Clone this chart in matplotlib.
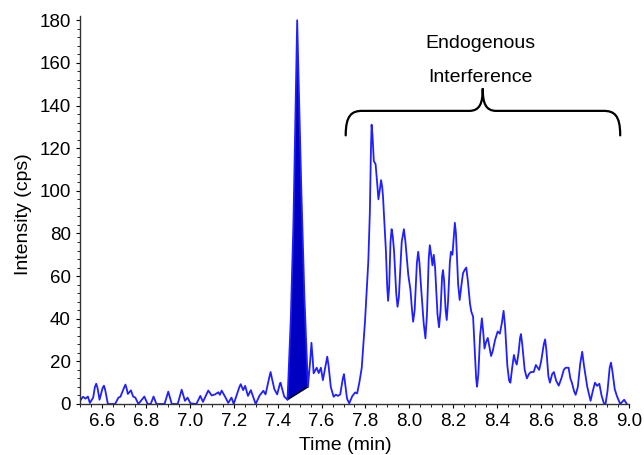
import matplotlib
matplotlib.use("Agg")
import matplotlib.pyplot as plt
from matplotlib.path import Path
from matplotlib.patches import PathPatch

plt.rcParams['font.family'] = ['Liberation Sans', 'DejaVu Sans']

# chromatogram trace: retention time (min) and intensity (cps)
time_min = [
    # baseline noise before the analyte
    6.500, 6.514, 6.525, 6.536, 6.545, 6.560, 6.568, 6.574, 6.580, 6.589,
    6.603, 6.609, 6.615, 6.627, 6.660, 6.675, 6.684, 6.700, 6.707, 6.713,
    6.718, 6.732, 6.742, 6.752, 6.766, 6.793, 6.808, 6.822, 6.835, 6.848,
    6.885, 6.902, 6.918, 6.945, 6.963, 6.978, 6.990, 7.003, 7.030, 7.048,
    7.060, 7.084, 7.100, 7.115, 7.130, 7.137, 7.145, 7.163, 7.175, 7.190,
    7.200, 7.226, 7.232, 7.243, 7.252, 7.265, 7.278, 7.300, 7.318, 7.335,
    7.345, 7.362, 7.368, 7.374, 7.385, 7.398, 7.409, 7.413, 7.430, 7.445,
    # analyte peak
    7.460, 7.472, 7.482, 7.489, 7.496, 7.508, 7.522, 7.538,
    # tail and endogenous interference
    7.548, 7.554, 7.559, 7.564, 7.578, 7.587, 7.597, 7.606, 7.620, 7.626,
    7.632, 7.642, 7.655, 7.665, 7.675, 7.685, 7.697, 7.702, 7.708, 7.716,
    7.726, 7.740, 7.753, 7.762, 7.772, 7.783, 7.798, 7.813, 7.820, 7.825,
    7.828, 7.832, 7.838, 7.846, 7.853, 7.859, 7.866, 7.871, 7.876, 7.880,
    7.893, 7.899, 7.903, 7.908, 7.914, 7.919, 7.924, 7.930, 7.940, 7.946,
    7.952, 7.965, 7.975, 7.982, 7.995, 8.005, 8.012, 8.017, 8.024, 8.034,
    8.040, 8.046, 8.053, 8.065, 8.073, 8.080, 8.088, 8.093, 8.099, 8.105,
    8.111, 8.117, 8.128, 8.135, 8.142, 8.149, 8.153, 8.158, 8.165, 8.170,
    8.176, 8.184, 8.189, 8.196, 8.203, 8.207, 8.212, 8.222, 8.229, 8.236,
    8.244, 8.252, 8.259, 8.266, 8.276, 8.282, 8.290, 8.298, 8.304, 8.308,
    8.314, 8.322, 8.330, 8.336, 8.342, 8.349, 8.357, 8.364, 8.372, 8.380,
    8.390, 8.402, 8.412, 8.421, 8.429, 8.436, 8.446, 8.454, 8.460, 8.468,
    8.476, 8.483, 8.489, 8.497, 8.504, 8.508, 8.514, 8.525, 8.535, 8.544,
    8.553, 8.566, 8.576, 8.591, 8.600, 8.612, 8.618, 8.624, 8.633, 8.640,
    8.650, 8.658, 8.668, 8.680, 8.692, 8.703, 8.711, 8.725, 8.733, 8.740,
    8.750, 8.757, 8.767, 8.778, 8.787, 8.795, 8.810, 8.825, 8.835, 8.845,
    8.855, 8.865, 8.875, 8.885, 8.893, 8.902, 8.912, 8.918, 8.925, 8.935,
    8.945, 8.960, 8.978, 8.990,
]
intensity = [
    1.5, 3.4, 2.5, 3.5, 0.5, 3.0, 8.0, 9.5, 7.5, 2.0,
    7.5, 8.6, 6.5, 0.0, 0.0, 3.0, 3.4, 7.5, 9.1, 7.0,
    4.7, 6.4, 3.5, 3.0, 0.0, 3.5, 0.0, 0.0, 3.5, 0.0,
    0.0, 5.8, 0.0, 0.0, 6.7, 1.5, 3.0, 0.3, 0.0, 3.8,
    1.0, 6.3, 4.0, 4.5, 5.5, 4.3, 6.3, 3.0, 0.5, 3.0,
    0.0, 8.0, 9.3, 6.5, 8.5, 3.8, 6.5, 0.0, 4.0, 6.2,
    4.5, 12.5, 15.0, 12.0, 7.0, 4.5, 9.0, 10.0, 3.5, 2.0,
    40.0, 85.0, 140.0, 180.0, 150.0, 100.0, 50.0, 8.0,
    20.0, 28.7, 22.0, 14.4, 17.0, 14.5, 17.0, 11.2, 19.0, 22.2,
    18.0, 8.0, 3.4, 4.4, 3.8, 4.5, 12.0, 14.0, 9.0, 2.5,
    0.3, 3.7, 5.4, 5.0, 10.0, 17.0, 39.0, 67.0, 90.0, 120.0,
    131.0, 126.0, 114.0, 112.5, 104.0, 96.0, 101.0, 105.0, 102.0, 97.0,
    72.0, 55.0, 48.4, 55.0, 76.0, 82.0, 79.0, 72.0, 52.0, 45.6,
    50.0, 76.0, 82.0, 76.0, 60.5, 53.4, 44.0, 38.6, 44.0, 66.0,
    71.4, 66.0, 55.0, 38.0, 30.8, 42.0, 68.0, 74.5, 70.0, 65.0,
    70.0, 64.0, 42.0, 36.0, 44.0, 60.0, 62.8, 58.0, 44.0, 39.4,
    48.0, 66.0, 71.4, 70.0, 80.0, 85.0, 80.0, 56.0, 48.8, 55.0,
    61.3, 63.0, 64.0, 58.0, 47.0, 43.3, 41.0, 25.0, 12.0, 8.1,
    14.0, 32.0, 40.2, 34.0, 26.0, 29.0, 31.0, 27.0, 22.5, 25.0,
    30.0, 34.0, 33.0, 38.0, 43.7, 36.0, 18.0, 11.0, 10.0, 17.0,
    23.0, 20.0, 18.5, 24.0, 31.0, 32.8, 28.0, 16.0, 12.0, 14.0,
    15.0, 15.0, 18.3, 16.0, 20.0, 28.0, 30.3, 25.0, 13.0, 10.0,
    14.0, 15.0, 11.0, 8.6, 12.0, 16.0, 17.0, 17.0, 12.0, 10.0,
    6.0, 4.3, 8.0, 19.0, 24.5, 18.0, 8.0, 1.5, 6.0, 10.0,
    8.5, 9.5, 4.0, 0.5, 0.0, 6.0, 17.0, 19.4, 15.0, 7.0,
    3.7, 0.0, 2.0, 0.0,
]

# integration window of the analyte peak
peak_start = 7.445
peak_end = 7.538

x_ticks = [6.6, 6.8, 7.0, 7.2, 7.4, 7.6, 7.8, 8.0, 8.2, 8.4, 8.6, 8.8, 9.0]
y_ticks = [0, 20, 40, 60, 80, 100, 120, 140, 160, 180]


def curly_brace(ax, x0, x1, xm, y_end, y_bar, y_tip):
    # horizontal curly brace opening downward, tip pointing up at xm
    r = (x1 - x0) * 0.055
    verts = [
        (x0, y_end),
        (x0, y_bar - 2.0), (x0 + r * 0.4, y_bar), (x0 + r * 1.1, y_bar),
        (xm - r * 0.9, y_bar),
        (xm - r * 0.2, y_bar), (xm, y_bar + 3.5), (xm, y_tip),
        (xm, y_bar + 3.5), (xm + r * 0.2, y_bar), (xm + r * 0.9, y_bar),
        (x1 - r * 1.1, y_bar),
        (x1 - r * 0.4, y_bar), (x1, y_bar - 2.0), (x1, y_end),
    ]
    codes = [Path.MOVETO,
             Path.CURVE4, Path.CURVE4, Path.CURVE4,
             Path.LINETO,
             Path.CURVE4, Path.CURVE4, Path.CURVE4,
             Path.CURVE4, Path.CURVE4, Path.CURVE4,
             Path.LINETO,
             Path.CURVE4, Path.CURVE4, Path.CURVE4]
    ax.add_patch(PathPatch(Path(verts, codes), facecolor='none',
                           edgecolor='black', lw=1.6, capstyle='round'))


fig = plt.figure(figsize=(6.44, 4.55), dpi=100)
ax = fig.add_axes([0.1242, 0.1121, 0.8525, 0.8527])

# filled analyte peak, closed by a straight baseline
peak_t = [t for t in time_min if peak_start <= t <= peak_end]
peak_i = [v for t, v in zip(time_min, intensity) if peak_start <= t <= peak_end]
ax.fill(peak_t, peak_i, color='#0000c0', lw=0)
ax.plot([peak_t[0], peak_t[-1]], [peak_i[0], peak_i[-1]], color='black', lw=1.0)

ax.plot(time_min, intensity, color='#2020ff', lw=1.3, solid_joinstyle='round')

curly_brace(ax, 7.710, 8.960, 8.334, 126.0, 137.5, 148.0)
ax.text(8.325, 169, 'Endogenous', ha='center', va='center', fontsize=14)
ax.text(8.325, 153, 'Interference', ha='center', va='center', fontsize=14)

ax.set_xlim(6.5, 9.0)
ax.set_ylim(0, 182)
ax.set_xticks(x_ticks)
ax.set_xticklabels([f'{t:.1f}' for t in x_ticks])
ax.set_yticks(y_ticks)
ax.set_xticks([6.5 + 0.05 * k for k in range(51)], minor=True)
ax.set_yticks(range(0, 182, 4), minor=True)
ax.tick_params(axis='both', which='major', labelsize=13.5, length=3, width=0.8)
ax.tick_params(axis='both', which='minor', length=2, width=0.6)

for side in ['top', 'right']:
    ax.spines[side].set_visible(False)
for side in ['left', 'bottom']:
    ax.spines[side].set_linewidth(1.0)
    ax.spines[side].set_color('#333333')

ax.set_xlabel('Time (min)', fontsize=14)
ax.set_ylabel('Intensity (cps)', fontsize=14)
ax.xaxis.set_label_coords(0.483, -0.086)
ax.yaxis.set_label_coords(-0.088, 0.49)

fig.savefig('out.png', dpi=100)
